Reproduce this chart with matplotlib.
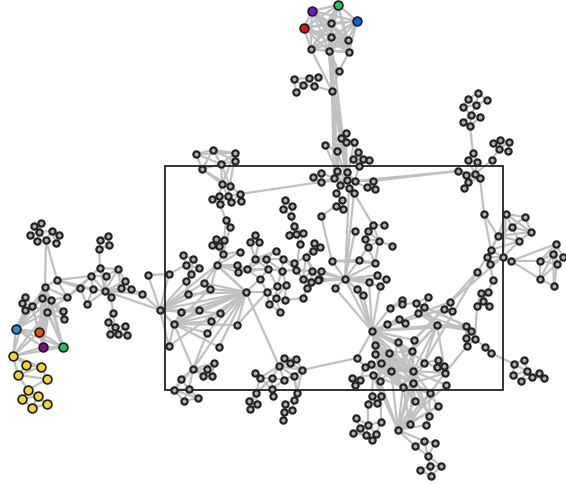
import matplotlib
matplotlib.use('Agg')
import matplotlib.pyplot as plt
from matplotlib.patches import Rectangle

# node positions, one pair of lists per cluster
t_x = [312, 338, 357, 304, 331, 331, 348, 311, 329, 349, 339, 332]
t_y = [12, 6, 22, 29, 24, 38, 41, 50, 52, 53, 72, 92]
u_x = [294, 309, 318, 303, 314, 296]
u_y = [80, 79, 78, 86, 87, 93]
a_x = [346, 341, 346, 354, 325, 337, 358, 353, 363, 369, 359]
a_y = [134, 139, 143, 143, 146, 152, 153, 160, 160, 161, 167]
c_x = [337, 347, 321, 313, 334, 321, 347, 355, 373, 340, 349, 354, 367, 375, 336, 342, 336, 343, 321]
c_y = [172, 173, 174, 178, 179, 183, 181, 182, 182, 186, 189, 194, 188, 190, 194, 201, 207, 210, 217]
r_x = [478, 468, 487, 476, 463, 471, 480, 463, 470]
r_y = [94, 100, 101, 106, 108, 116, 118, 123, 127]
o_x = [493, 500, 509, 499, 508]
o_y = [144, 141, 143, 150, 152]
k_x = [473, 468, 477, 492, 458, 466, 475, 480, 468, 464, 484]
k_y = [154, 161, 163, 161, 172, 176, 175, 179, 183, 189, 215]
e_x = [506, 525, 512, 531, 498, 519, 491, 487, 503, 511, 490, 477, 493]
e_y = [215, 218, 228, 233, 237, 242, 251, 258, 258, 262, 265, 273, 281]
f_x = [556, 553, 563, 540, 557, 540, 554]
f_y = [245, 255, 258, 262, 265, 280, 287]
g_x = [488, 481, 483, 477, 489]
g_y = [293, 294, 302, 307, 307]
h_x = [450, 444, 452, 437, 466, 471, 466, 475, 467, 485, 491]
h_y = [303, 310, 312, 326, 327, 332, 339, 340, 347, 348, 354]
j_x = [514, 524, 527, 513, 521, 532, 539, 544]
j_y = [365, 361, 372, 376, 382, 378, 374, 379]
m_x = [372, 402, 402, 416, 428, 424, 390, 418, 399, 405, 387, 398, 414, 375, 412, 375, 389, 357, 424, 438, 437,
       444, 445, 381, 371, 365, 391, 413, 373, 352, 360, 355, 380, 413, 403, 446, 430, 372, 381, 377, 368, 415,
       438, 429, 426, 356, 381, 368, 410, 360, 398, 353, 366, 376, 372, 424, 435, 415, 428, 430, 441, 420, 431]
m_y = [332, 301, 305, 304, 298, 308, 309, 314, 320, 324, 325, 343, 341, 346, 352, 355, 354, 359, 364, 361, 368,
       367, 374, 364, 365, 368, 372, 372, 376, 379, 381, 386, 382, 384, 388, 386, 394, 397, 397, 404, 405, 402,
       407, 417, 426, 419, 423, 426, 425, 429, 431, 434, 436, 435, 441, 442, 444, 447, 457, 467, 467, 471, 477]
p_x = [345, 332, 359, 375, 321, 319, 377, 386, 369, 380, 357, 335, 363, 355, 373, 384, 368, 365, 379, 392, 368]
p_y = [280, 262, 261, 264, 272, 280, 276, 280, 283, 287, 290, 289, 296, 232, 226, 226, 232, 240, 242, 247, 248]
q_x = [160, 148, 169, 169, 174, 181, 199, 188, 186, 191, 186, 183, 193, 199, 204, 210, 217, 246, 220, 211, 237, 207, 219]
q_y = [311, 276, 275, 347, 325, 313, 311, 295, 282, 275, 266, 256, 260, 269, 284, 290, 266, 293, 314, 322, 326, 334, 348]
s_x = [193, 214, 207, 203, 212, 181, 174, 189, 198, 184]
s_y = [370, 364, 370, 377, 377, 380, 391, 390, 399, 402]
v_x = [237, 238, 247, 255, 266, 276, 283, 294, 268, 282, 296, 260, 277, 286, 267, 276, 285, 269, 280, 303,
       311, 318, 312, 307, 303, 306, 314, 320, 313, 255, 250, 259, 240, 223, 216, 224, 212, 219, 226, 230]
v_y = [266, 273, 270, 260, 260, 252, 260, 264, 270, 272, 271, 280, 287, 286, 293, 299, 301, 305, 313, 280,
       283, 281, 272, 289, 299, 258, 244, 248, 252, 236, 243, 243, 253, 255, 240, 241, 246, 247, 221, 228]
w_x = [196, 213, 235, 235, 221, 202, 222, 230, 240, 219, 228, 212, 220, 231, 241]
w_y = [155, 151, 154, 162, 165, 170, 185, 187, 195, 197, 197, 200, 205, 203, 202]
x_x = [285, 292, 283, 291, 294, 289, 296, 303, 300]
x_y = [201, 207, 210, 217, 227, 236, 235, 234, 245]
y_x = [284, 296, 290, 279, 302, 255, 260, 272, 294, 284, 272, 273, 256, 297, 294, 249, 257, 250, 285, 292, 284, 283]
y_y = [359, 360, 364, 367, 371, 374, 379, 379, 377, 381, 390, 397, 394, 394, 401, 402, 405, 410, 405, 411, 413, 421]
z_x = [34, 41, 30, 39, 52, 59, 37, 46, 56]
z_y = [227, 224, 236, 233, 232, 236, 242, 241, 244]
l_x = [45, 57, 25, 22, 32, 25, 42, 51, 47, 63, 64, 67, 16, 39, 43, 63]
l_y = [288, 281, 298, 304, 307, 311, 299, 301, 313, 312, 320, 298, 330, 333, 348, 348]
d_x = [13, 26, 41, 18, 47, 28, 38, 22, 47, 32]
d_y = [357, 366, 368, 376, 380, 391, 397, 400, 405, 409]
b_x = [80, 91, 93, 87, 106, 100, 99, 100, 108, 109, 118, 125, 105, 111, 121, 131, 142, 113, 108, 115, 125, 110, 118, 127]
b_y = [289, 277, 290, 305, 277, 269, 250, 241, 237, 246, 270, 282, 292, 298, 289, 290, 295, 314, 323, 328, 327, 335, 335, 336]

clusters = {
    't': (t_x, t_y), 'u': (u_x, u_y), 'a': (a_x, a_y), 'c': (c_x, c_y), 'r': (r_x, r_y),
    'o': (o_x, o_y), 'k': (k_x, k_y), 'e': (e_x, e_y), 'f': (f_x, f_y), 'g': (g_x, g_y),
    'h': (h_x, h_y), 'j': (j_x, j_y), 'm': (m_x, m_y), 'p': (p_x, p_y), 'q': (q_x, q_y),
    's': (s_x, s_y), 'v': (v_x, v_y), 'w': (w_x, w_y), 'x': (x_x, x_y), 'y': (y_x, y_y),
    'z': (z_x, z_y), 'l': (l_x, l_y), 'd': (d_x, d_y), 'b': (b_x, b_y),
}

# every node named in a clique is joined to every other one
cliques = [
    "t0 t1 t2 t3 t4 t5 t6 t7 t8 t9",
    "l12 l13 l14 l15 d0",
]

# first node of each line is joined to the rest of that line
stars = """
t8 t10 t11
t9 t10
t10 t11
t5 t11 c1
t7 t11
t4 c0
t11 u4 c6 c1 c0 c9 c4
t8 c1 c0
u0 u1 u3 u5
u1 u2 u3 u4
u2 u4
u3 u4 u5
a0 a1 a2
a1 a2 a3 c6
a2 a3 c6
a3 a6 c6
a4 a5 c0
a5 a2 a1 c6
a6 a7 a8 a10
a7 a8 a10
a8 a9 a10
a9 a10
a10 c7
c6 c0 c1 c4 c7 c9 c10 c11 c14 c5 c12
c1 c7 c4 c9
c0 c4 c9
c2 c3 c4 c5
c3 c5
c5 c4 w8
c9 c14 c10
c10 c11 p0
c7 c8 k4
c8 c12 c13 k4
c12 c13
c14 c15
c15 c16 c17
c16 c17 c18
c18 p1
c11 p0 p14
p0 p1 p2 p3 p4 p5 p6 p7 p8 p9 p10 p11 p12 p13 v22 v20 v21 v19 m0
p1 p2 p3
p2 p3 p20
p3 p20 p18
p4 p5
p14 p15 p16 p18
p16 p17 p18
p17 p18 p20
p18 p19 p20
p8 m0
p9 m0
p10 m0
p11 m0
p12 m0
m0 m6 m8 m10 h0 h1 h4 m11 m13 m15 m16 m23 m26 m27 m14 m12 m17 m33 m34 m32 m22 h3
m6 m1 m2
m2 m3 m1
m3 m4 m5 m7 h4 h3
m5 m7 m4 h3 h4
m7 h3 h5
m8 m9
m10 m8
m16 m26 m27 m33 m14 m34
m11 m27 m26 m33 m14
m12 m14 m27
m14 m27 m26 m33 m34
m26 m27 m33 m34 m32 m28 m50 m36 m41
m27 m33 m34 m36 m35 m50 m48 m43
m23 m26 m27 m32 m33 m34
m24 m26 m27 m33 m34
m25 m26 m17 m27
m28 m32 m50 m29 m37 m38 m34
m13 m15 m16 m27 m26
m15 m23 m26 m27
m18 m27 m19 h3 m33
m19 m20 m21 m22
m20 m21 m22
m21 m22 h3
m22 m27 m33 m36 h8
m33 m36 m41 m50 m48 m43
m34 m50 m36 m48
m36 m50 m42 m43 m48
m41 m50
m42 m50 m48
m43 m44
m44 m50
m48 m50
m32 m50 m38
m50 m55 m57 m35
m55 m56 m57 m58
m57 m58
m56 m58
m58 m59 m60
m59 m60 m61 m62
m60 m62
m61 m62
m37 m38 m39 m40
m38 m39 m46
m39 m40
m45 m47 m49
m47 m49 m52 m53 m46 m40
m46 m53
m49 m51 m52
m51 m52
m52 m53 m54
m53 m54
m29 m30 m31
m30 m31 m25
m17 y4
h3 h4 h5 m14 m27 m26
h4 h5 h6 h7
h5 h6 h7
h6 h7 h8
h7 h8 h9 g3
h9 h10
h10 j0
h0 h1 h2 e8 e11 m12
h1 h2 m12
j0 j1 j2 j3
j1 j2
j2 j3 j4 j5
j3 j4
j4 j5
j5 j6 j7
j6 j7
g0 g1 g2 e12
g1 g2 g3
g2 g3 g4
e12 e10
e10 e7 e6 e8
e6 e7 e8
e7 e8 e11
e8 e9 e5 e0
e9 f3 f5 f0
f3 f0 f1 f4 f5
f0 f1 f2 f4
f1 f2 f4 f6 f5
f4 f2 f5 f6
f5 f6
e4 e0 e1 e2 e3 e5 e6 e7
e0 e1 e2 e3
e1 e3 e2
e2 e3 e5
e3 e5
e5 e6
e11 m18
k10 e4 e6
k7 k10
r0 r1 r2 r3
r1 r3 r4
r2 r3
r3 r4 r5
r4 r5
r5 r6 r7 r8
r6 r8
r7 r8
r8 k0
k0 k1 k2
k1 k2 k6
k2 k6
k3 k6 o3
o0 o1 o2 o3
o1 o2 o3
o2 o3 o4
o3 o4
k4 k5 k6
k5 k6 k7 k8
k6 k7 k8
k7 k8
k8 k9
q0 q1 q2 q3 q4 q5 q6 q7 q8 q14 q15 q16 q17 q18
q1 q2
q2 q10
q4 q17 q18 q19 q20 q6 q15 q3 q21 q22 s0 q5
q3 q17
q17 q16 q14 q15 q6 q5 q18 q19 q20 q21 q22 q7 s0 y3 v11 v14
q16 v0 v1 v2 q14 q15 v33 v32 q17
q10 q11 q12 q13 q9
q11 q12
q12 q13 q9
q9 q13 q8
q8 q7
s0 q21 s1 s2 s3 s4 s5 s6 s7
s1 s2 s4
s2 s3 s4
s3 s4
s5 s6 s7
s6 s7 s8 s9
s7 s8 s9
s8 s9
v33 v34 v35 v36 v37 v32
v34 v35 v36 v37
v35 v37
v36 v37
v38 v39 w12 v35
v39 v33
v0 v1 v2
v1 v2 v8
v2 v8 v3 v4 v11
v3 v4 v8 v5
v4 v5 v6 v8 v9
v5 v6
v6 v7 v9 v10
v7 v10 v25
v8 v9 v11 v12
v9 v10 v12 v13
v10 v22 v19 x8
v11 v14
v12 v13 v14 v15
v13 v15 v16
v14 v15 v17
v15 v16 v17 v18
v16 v24
v17 v18
v19 v20 v21 v22 v23
v20 v21 v22 v23
v21 v22
v23 v24
v29 v30 v31
v30 v31 v3
v31 v3
v25 v26 v27 v28 v22 v19 p5
v26 v27 v28
v27 v28
q20 v14
w0 w1 w2 w4 w5
w1 w2 w3 w4 w5
w2 w3 w4 w6 w7
w3 w4
w4 w5 w6 w7
w5 w6 w7
w6 w7 w9 w10
w7 w10 w8
w8 w10 w13 w14
w9 w10 w11 w12
w10 w13 w12 w11
w11 w12
w13 w14
x0 x1 x2
x1 x2 x3
x2 x3
x3 x4
x4 x5 x6 x7
x5 x6
x6 x7 x8
x7 x8
y3 y0 y1 y2 y4 y6 y7 y8 y9
y0 y1 y2
y1 y2 y4
y2 y4
y4 y8 y9
y5 y6
y6 y7 y10 y12
y7 y9 y10
y8 y9 y13
y9 y10
y10 y11
y12 y7 y15 y16 y17
y15 y16
y16 y17
y13 y14 y8 y4
y14 y18 y19
y18 y19 y20
y19 y20
y20 y21
z0 z1 z3
z1 z3
z2 z3 z6
z3 z4 z6 z7
z4 z5 z7 z8
z5 z8
z6 z7
z7 z8 l0 l1
l0 l1 l6 l7 l8 l11 l12 l13 l14 l15 l4
l1 b1 b0 b2 l11
l11 l7 l8 b0 b1
l2 l3 l4
l3 l4 l5
l4 l5 l6 l8 l12 l13 l14
l5 l12
l6 l7 l8 l12 l13 l14 l15
l7 l8 l9 l10 l12 l13 l14 l15
l8 l9 l10 l12 l13 l14 l15
l9 l10
l12 l5
d0 l5 d1 d3 d2 l8
d1 d2 d3
d2 d3 d4
d3 d4 d5
d4 d5
d5 d6 d7 d8
d6 d7 d8 d9
d7 d9
d8 d9
b0 b1 b2 b3
b1 b2 b4 b5 b12
b2 b3 b12
b3 b12
b4 b5 b12 b10
b5 b6 b10 b12
b6 b7 b9
b7 b8 b9
b8 b9
b10 b11 b12 b14
b11 b12 b14 b15
b12 b13 b14 b15 b16 q0
b13 b17
b14 b15
b15 b16
b16 q0
b17 b18 b19
b18 b19 b21
b19 b20 b21 b22
b20 b22 b23
b21 b22
b22 b23
"""

# nodes that are not plain grey
node_colors = {
    't0': '#7a12cf', 't1': '#22c265', 't2': '#0f62de', 't3': '#e01212',
    'l12': '#2c8bdb', 'l13': '#e8520f', 'l14': '#7b0f86', 'l15': '#1dbf60',
}
for i in range(len(d_x)):
    node_colors[f'd{i}'] = '#f3d52c'


def point(name):
    xs, ys = clusters[name[0]]
    i = int(name[1:])
    return xs[i], ys[i]


fig = plt.figure(figsize=(5.66, 4.85), dpi=100)
ax = fig.add_axes([0, 0, 1, 1])

# links first so the nodes sit on top
pairs = []
for line in cliques:
    names = line.split()
    for i, n1 in enumerate(names):
        for n2 in names[i + 1:]:
            pairs.append((n1, n2))
for line in stars.strip().splitlines():
    names = line.split()
    for n2 in names[1:]:
        pairs.append((names[0], n2))

for n1, n2 in pairs:
    x1, y1 = point(n1)
    x2, y2 = point(n2)
    ax.plot([x1, x2], [y1, y2], color='#c0c0c0', linewidth=1.6, zorder=1, solid_capstyle='round')

# the box around the central part
ax.add_patch(Rectangle((165, 167), 338, 224, fill=False, edgecolor='#222222', linewidth=1.3, zorder=2))

for key, (xs, ys) in clusters.items():
    for i, (nx, ny) in enumerate(zip(xs, ys)):
        name = f'{key}{i}'
        if name in node_colors:
            ax.scatter(nx, ny, s=40, color=node_colors[name], edgecolor='#1a1a1a', linewidth=1.2, zorder=3)
        else:
            ax.scatter(nx, ny, s=20, color='#b0b0b0', edgecolor='#222222', linewidth=1.6, zorder=3)

ax.set_xlim(0, 566)
ax.set_ylim(485, 0)
ax.axis('off')

fig.savefig('out.png', dpi=100)
